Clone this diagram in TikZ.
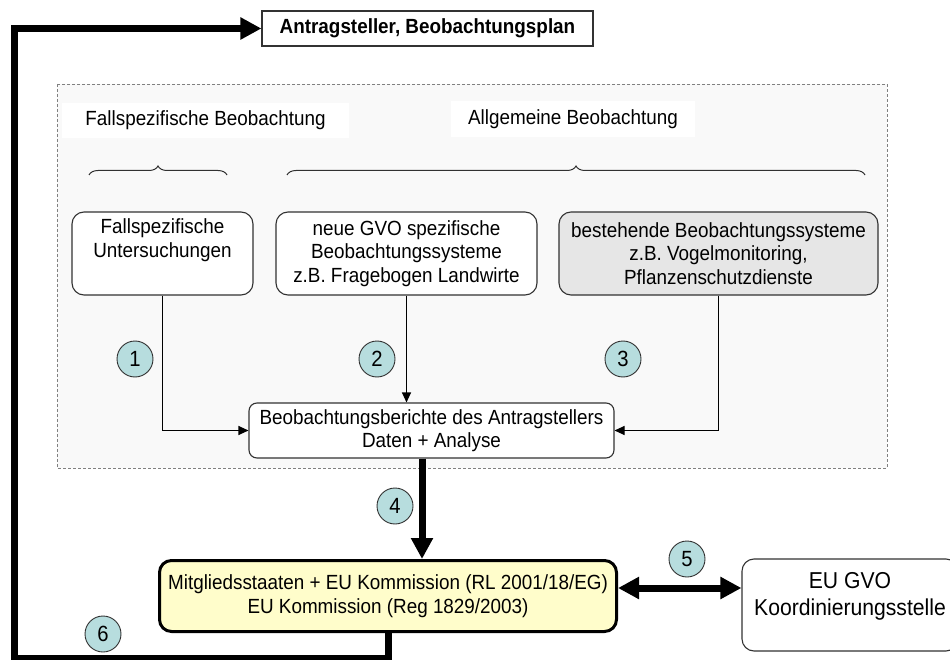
\documentclass[tikz,border=0pt]{standalone}
\usepackage{fontspec}
\setmainfont[FakeStretch=0.92]{Liberation Sans}
\usetikzlibrary{arrows.meta,decorations.pathreplacing}
\definecolor{framegray}{RGB}{249,249,249}
\definecolor{sysgray}{RGB}{230,230,230}
\definecolor{gremiumyellow}{RGB}{255,253,203}
\definecolor{stepteal}{RGB}{183,221,222}
\definecolor{linegray}{RGB}{50,50,50}

\begin{document}
\begin{tikzpicture}[x=1pt, y=-1pt,
    txt/.style={font=\fontsize{20.5}{23.5}\selectfont, align=center},
    obsbox/.style={txt, draw=linegray, line width=1.1pt, rounded corners=12pt, fill=white, inner sep=0pt},
    tag/.style={txt, fill=white, inner sep=0pt},
    num/.style={circle, draw=linegray, fill=stepteal, line width=0.9pt, minimum size=36pt, inner sep=0pt, font=\fontsize{22}{24}\selectfont},
    feedarrow/.style={-{Triangle[length=10pt,width=9pt]}, line width=1.1pt},
    heavyarrow/.style={line width=7pt, -{Triangle[length=21pt,width=21pt]}},
    heavyboth/.style={line width=7pt, {Triangle[length=21pt,width=21pt]}-{Triangle[length=21pt,width=21pt]}},
    bracket/.style={draw=linegray, line width=1pt, decorate, decoration={brace, amplitude=9pt}}]

    \useasboundingbox (0,0) rectangle (950,660);
    \clip (0,0) rectangle (950,660);

    % Antragsteller
    \node[draw=linegray, line width=1.1pt, minimum width=331pt, minimum height=35pt, inner sep=0pt,
          font=\fontsize{20.5}{23}\selectfont\bfseries] (antrag) at (427.5,28.5) {Antragsteller, Beobachtungsplan};

    % Beobachtung (gestrichelter Rahmen)
    \draw[draw=gray, fill=framegray, line width=0.8pt, dash pattern=on 3pt off 2pt] (57,84) rectangle (887,468);

    % Ueberschriften
    \node[tag, minimum width=287pt, minimum height=35pt] (fallB) at (205.5,120.5) {Fallspezifische Beobachtung};
    \node[tag, minimum width=244pt, minimum height=36pt] (allgB) at (573,119) {Allgemeine Beobachtung};

    % Klammern
    \draw[bracket] (89,175) -- (227,175);
    \draw[bracket] (287,175) -- (865,175);

    % Beobachtungssysteme
    \node[obsbox, minimum width=181pt, minimum height=83pt] (fall) at (162.5,253.5) {Fallspezifische\\Untersuchungen\\\strut};
    \node[obsbox, minimum width=261pt, minimum height=83pt] (neu) at (406.5,253.5) {neue GVO spezifische\\Beobachtungssysteme\\z.B. Fragebogen Landwirte};
    \node[obsbox, fill=sysgray, minimum width=319pt, minimum height=83pt] (best) at (718.5,253.5) {bestehende Beobachtungssysteme\\z.B. Vogelmonitoring,\\Pflanzenschutzdienste};

    % Berichte
    \node[obsbox, rounded corners=8pt, minimum width=365pt, minimum height=55pt] (bericht) at (431.5,430.5) {Beobachtungsberichte des Antragstellers\\Daten + Analyse};

    % Mitgliedsstaaten und Kommission
    \node[obsbox, fill=gremiumyellow, draw=black, line width=3pt, minimum width=457pt, minimum height=71pt] (gremium) at (388,596) {Mitgliedsstaaten + EU Kommission (RL 2001/18/EG)\\EU Kommission (Reg 1829/2003)};

    % Koordinierungsstelle
    \node[obsbox, minimum width=216pt, minimum height=92pt] (koord) at (850,605) {};
    \node[txt, font=\fontsize{23}{27}\selectfont] (koordtxt) at (850,596.5) {EU GVO\\Koordinierungsstelle};

    % Schritte
    \node[num] (s1) at (135,359) {1};
    \node[num] (s2) at (377,359) {2};
    \node[num] (s3) at (623,359) {3};
    \node[num] (s4) at (395,506) {4};
    \node[num] (s5) at (687,559) {5};
    \node[num] (s6) at (103,634) {6};

    % Pfeile
    \draw[feedarrow] (fall.south) |- (bericht.west);
    \draw[feedarrow] (neu.south) -- (neu.south |- bericht.north);
    \draw[feedarrow] (best.south) |- (bericht.east);
    \draw[heavyarrow] ([xshift=-9.5pt]bericht.south) -- ([xshift=-9.5pt]bericht.south |- gremium.north);
    \draw[heavyboth] ([yshift=8pt]gremium.east) -- ([yshift=8pt]gremium.east -| koord.west);

    % Rueckkopplung
    \coordinate (fbecke) at (14,658);
    \draw[heavyarrow] (gremium.south) |- (fbecke) |- (antrag.west);
\end{tikzpicture}
\end{document}
